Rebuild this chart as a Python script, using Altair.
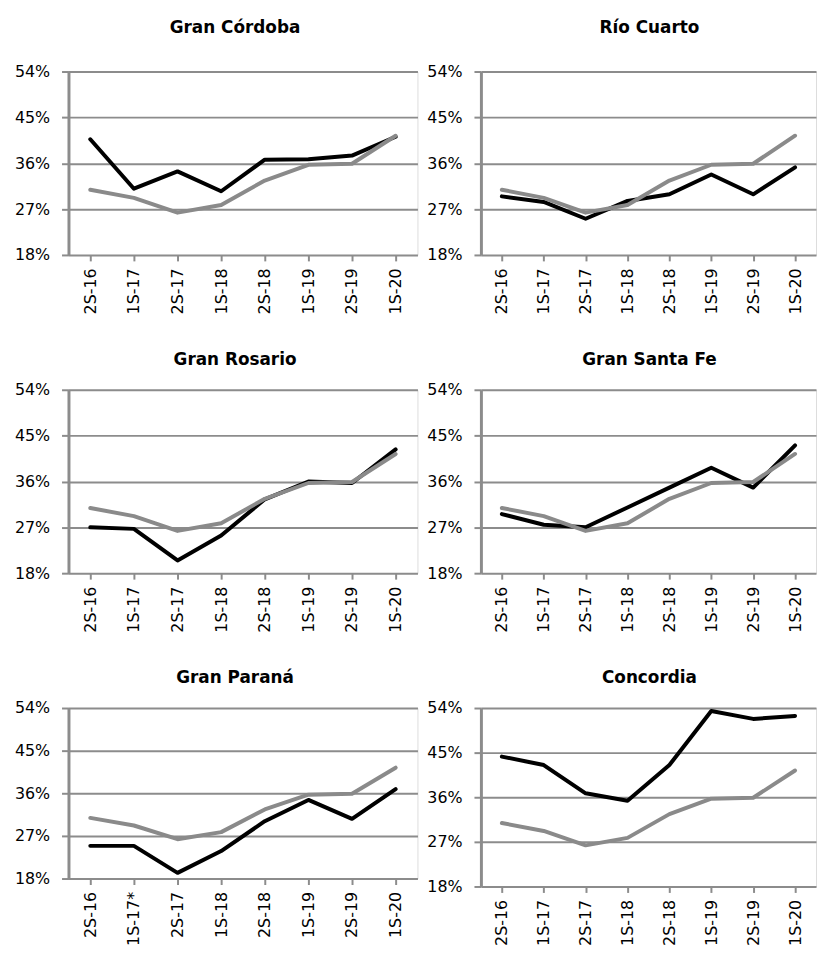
import altair as alt
import pandas as pd

# ---------------- data ----------------
periods = ["2S-16", "1S-17", "2S-17", "1S-18", "2S-18", "1S-19", "2S-19", "1S-20"]
periods_parana = ["2S-16", "1S-17*", "2S-17", "1S-18", "2S-18", "1S-19", "2S-19", "1S-20"]

# gray line (total / reference series), same in every panel
average = [30.8, 29.2, 26.3, 27.8, 32.6, 35.7, 35.9, 41.4]

titles = ["Gran Córdoba", "Río Cuarto", "Gran Rosario", "Gran Santa Fe", "Gran Paraná", "Concordia"]
cordoba = [40.7, 31.0, 34.4, 30.5, 36.7, 36.8, 37.5, 41.2]
rio_cuarto = [29.5, 28.4, 25.1, 28.6, 29.9, 33.8, 29.9, 35.2]
rosario = [27.0, 26.7, 20.5, 25.4, 32.5, 36.0, 35.7, 42.3]
santa_fe = [29.6, 27.5, 27.0, 30.9, 34.8, 38.7, 34.8, 43.1]
parana = [24.9, 24.9, 19.2, 23.8, 30.1, 34.6, 30.6, 36.9]
concordia = [44.2, 42.5, 36.8, 35.3, 42.5, 53.4, 51.8, 52.4]

y_ticks = [18, 27, 36, 45, 54]

FONT = "DejaVu Sans"
GRID = "#8c8c8c"
GRAY_LINE = "#8a8a8a"


def panel(title, labels, city, width, height, dx, offset):
    df = pd.DataFrame({
        "periodo": labels + labels,
        "valor": city + average,
        "serie": ["city"] * len(labels) + ["avg"] * len(labels),
    })
    xscale = alt.Scale(domain=labels, paddingInner=0, paddingOuter=0)
    yscale = alt.Scale(domain=[18, 54], nice=False, zero=False)

    yaxis = alt.Axis(values=y_ticks, labelExpr="datum.value + '%'", grid=True,
                     gridColor=GRID, gridWidth=2, domainColor=GRID, domainWidth=3,
                     tickColor=GRID, tickWidth=2, tickSize=7, labelPadding=12,
                     labelFontSize=16, labelFont=FONT, labelColor="#000000", title=None)
    label_axis = alt.Axis(orient="bottom", labelAngle=-90, ticks=False, tickSize=0,
                          domain=False, grid=False, labelPadding=13, labelFontSize=16,
                          labelFont=FONT, labelColor="#000000", title=None)
    tick_axis = alt.Axis(orient="bottom", labels=False, ticks=True, bandPosition=0,
                         tickSize=6, tickColor=GRID, tickWidth=2, domain=False,
                         grid=False, title=None)

    base = alt.Chart(df)
    black = base.transform_filter("datum.serie == 'city'").mark_line(
        color="#000000", strokeWidth=4, strokeJoin="round", strokeCap="round"
    ).encode(
        x=alt.X("periodo:N", scale=xscale, axis=label_axis),
        y=alt.Y("valor:Q", scale=yscale, axis=yaxis),
    )
    gray = base.transform_filter("datum.serie == 'avg'").mark_line(
        color=GRAY_LINE, strokeWidth=4, strokeJoin="round", strokeCap="round"
    ).encode(
        x=alt.X("periodo:N", scale=xscale, axis=tick_axis),
        y=alt.Y("valor:Q", scale=yscale, axis=yaxis),
    )
    return alt.layer(
        black, gray,
        title=alt.TitleParams(text=title, font=FONT, fontSize=17, fontWeight="bold",
                              color="#000000", anchor="middle", frame="group",
                              dx=dx, offset=offset, baseline="alphabetic"),
    ).resolve_axis(x="independent").properties(width=width, height=height)


LW, RW = 352, 338
panels = [
    panel(titles[0], periods, cordoba, LW, 185, -8, 14),
    panel(titles[1], periods, rio_cuarto, RW, 185, 1, 14),
    panel(titles[2], periods, rosario, LW, 185, -8, 0),
    panel(titles[3], periods, santa_fe, RW, 185, 1, 0),
    panel(titles[4], periods_parana, parana, LW, 172, -8, 0),
    panel(titles[5], periods, concordia, RW, 180, 1, 0),
]

chart = alt.concat(
    *panels, columns=2, spacing={"row": 136, "column": 64}, bounds="flush", align="each"
).properties(
    padding={"left": 5, "top": 6, "right": 0, "bottom": 0}
).configure_view(strokeWidth=0, stroke="transparent").configure(background="white")

chart.save("out.html", embed_options={"renderer": "svg", "actions": False})
